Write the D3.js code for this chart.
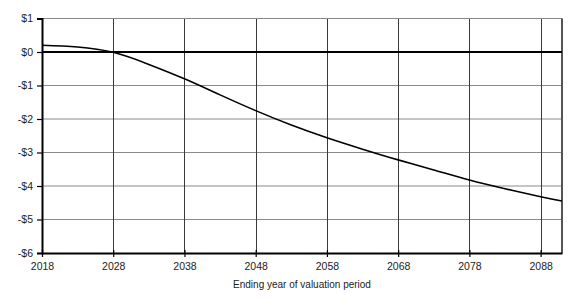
<!DOCTYPE html>
<html>
<head>
<meta charset="utf-8">
<script src="https://cdn.jsdelivr.net/npm/d3@7"></script>
<style>
  body { margin: 0; background: #fff; }
  text { font-family: "Liberation Sans", Arial, sans-serif; fill: #000; }
</style>
</head>
<body>
<div id="chart"></div>
<script>
// values (dollars, by ending year)
var years = [2018, 2023, 2028, 2033, 2038, 2043, 2048, 2053, 2058, 2063, 2068, 2073, 2078, 2083, 2088, 2091];
var values = [0.20, 0.15, -0.01, -0.37, -0.80, -1.28, -1.75, -2.18, -2.56, -2.90, -3.22, -3.52, -3.82, -4.08, -4.32, -4.45];
var xTicks = [2018, 2028, 2038, 2048, 2058, 2068, 2078, 2088];
var yTicks = [1, 0, -1, -2, -3, -4, -5, -6];
var xTitle = "Ending year of valuation period";

var w = 576, h = 308;
var pLeft = 42, pRight = 562, pTop = 18.5, pBottom = 253;

var svg = d3.select('#chart').append('svg')
  .attr('width', w)
  .attr('height', h);

var x = d3.scaleLinear().domain([2018, 2091]).range([pLeft, pRight]);
var y = d3.scaleLinear().domain([-6, 1]).range([pBottom, pTop]);

// horizontal grid
svg.append('g').selectAll('line')
  .data(yTicks.filter(function(d) { return d !== 0 && d !== -6; }))
  .join('line')
  .attr('x1', pLeft).attr('x2', pRight)
  .attr('y1', function(d) { return y(d); })
  .attr('y2', function(d) { return y(d); })
  .style('stroke', '#8a8a8a')
  .style('stroke-width', 1);

// vertical grid
svg.append('g').selectAll('line')
  .data(xTicks.slice(1))
  .join('line')
  .attr('x1', function(d) { return Math.round(x(d)) + 0.5; })
  .attr('x2', function(d) { return Math.round(x(d)) + 0.5; })
  .attr('y1', pTop).attr('y2', pBottom)
  .style('stroke', '#3a3a3a')
  .style('stroke-width', 1);

// frame top / right
svg.append('line')
  .attr('x1', pLeft).attr('x2', pRight)
  .attr('y1', pTop).attr('y2', pTop)
  .style('stroke', '#888').style('stroke-width', 1);
svg.append('line')
  .attr('x1', pRight).attr('x2', pRight)
  .attr('y1', pTop).attr('y2', pBottom)
  .style('stroke', '#555').style('stroke-width', 2);

// zero line
svg.append('line')
  .attr('x1', pLeft).attr('x2', pRight)
  .attr('y1', y(0)).attr('y2', y(0))
  .style('stroke', '#000').style('stroke-width', 2.2);

// axes
var yAxis = d3.axisLeft(y)
  .tickValues(yTicks)
  .tickSize(5)
  .tickPadding(4)
  .tickFormat(function(d) { return (d < 0 ? '-$' : '$') + Math.abs(d); });

var xAxis = d3.axisBottom(x)
  .tickValues(xTicks)
  .tickSizeInner(4)
  .tickSizeOuter(0)
  .tickPadding(6)
  .tickFormat(d3.format('d'));

var gy = svg.append('g')
  .attr('transform', 'translate(' + pLeft + ',0)')
  .call(yAxis);
var gx = svg.append('g')
  .attr('transform', 'translate(0,' + pBottom + ')')
  .call(xAxis);

gx.selectAll('.tick line').attr('y1', -3);

[gx, gy].forEach(function(g) {
  g.select('.domain').style('stroke', '#000').style('stroke-width', 2);
  g.selectAll('.tick line').style('stroke', '#000').style('stroke-width', 1.2);
  g.selectAll('text')
    .style('font-family', '"Liberation Sans", Arial, sans-serif')
    .style('font-size', '10.5px')
    .style('fill', '#222');
});

// series line
var line = d3.line()
  .x(function(d, i) { return x(years[i]); })
  .y(function(d) { return y(d); })
  .curve(d3.curveNatural);

svg.append('path')
  .datum(values)
  .attr('d', line)
  .style('fill', 'none')
  .style('stroke', '#000')
  .style('stroke-width', 1.6);

svg.append('text')
  .text(xTitle)
  .attr('x', (pLeft + pRight) / 2)
  .attr('y', 288)
  .attr('text-anchor', 'middle')
  .style('font-size', '10px')
  .style('fill', '#222');
</script>
</body>
</html>
